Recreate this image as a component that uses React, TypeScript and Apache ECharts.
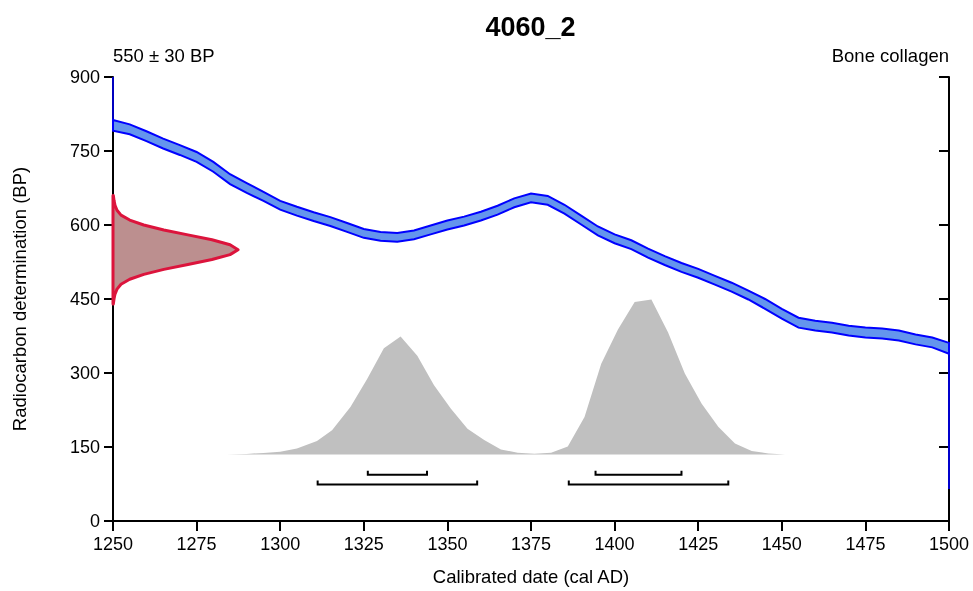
import React, { useEffect, useRef } from "react";
import * as echarts from "echarts";

const FONT = "'Liberation Sans', Arial, Helvetica, sans-serif";

const TITLE = "4060_2";
const SUB_LEFT = "550 ± 30 BP";
const SUB_RIGHT = "Bone collagen";
const X_NAME = "Calibrated date (cal AD)";
const Y_NAME = "Radiocarbon determination (BP)";

// Calibration curve (centre and 1-sigma half width, BP)
const CAL_YEARS = [1250, 1255, 1260, 1265, 1270, 1275, 1280, 1285, 1290, 1295, 1300, 1305, 1310, 1315, 1320, 1325, 1330, 1335, 1340, 1345, 1350, 1355, 1360, 1365, 1370, 1375, 1380, 1385, 1390, 1395, 1400, 1405, 1410, 1415, 1420, 1425, 1430, 1435, 1440, 1445, 1450, 1455, 1460, 1465, 1470, 1475, 1480, 1485, 1490, 1495, 1500];
const CAL_BP = [802, 794, 780, 765, 752, 738, 718, 693, 675, 658, 640, 628, 617, 607, 595, 583, 577, 575, 580, 590, 600, 608, 618, 630, 645, 655, 650, 632, 610, 588, 572, 560, 543, 528, 514, 502, 488, 474, 458, 440, 420, 402, 396, 392, 386, 382, 380, 376, 368, 362, 350];
const CAL_ERR = [11, 10, 10, 10, 10, 10, 10, 10, 10, 9, 9, 9, 9, 9, 9, 9, 9, 9, 9, 9, 9, 9, 9, 9, 9, 9, 9, 9, 9, 9, 9, 9, 9, 9, 9, 9, 9, 9, 9, 10, 10, 10, 10, 10, 10, 10, 10, 10, 10, 10, 11];

// Clipped curve edges at the plot borders
const EDGE_LEFT = [[1250, 900], [1250, 813]];
const EDGE_RIGHT = [[1500, 358], [1500, 65]];

// Measured date distribution (BP vs width in years from the axis)
const MEAS_BP = [440, 450, 460, 470, 480, 490, 500, 510, 520, 530, 540, 550, 560, 570, 580, 590, 600, 610, 620, 630, 640, 650, 660];
const MEAS_WIDTH = [0.1, 0.3, 0.6, 1.2, 2.4, 5, 9.2, 15.2, 22.4, 29.6, 35, 37.4, 35, 29.6, 22.4, 15.2, 9.2, 5, 2.4, 1.2, 0.6, 0.3, 0.1];

// Calibrated probability (top edge of the grey area, in BP units above its base)
const POST_BASE = 135;
const POST_YEARS = [1284, 1290, 1295, 1300, 1305, 1311, 1315.5, 1321, 1326, 1331, 1336, 1341, 1346, 1351, 1356, 1361, 1366, 1371, 1376, 1381, 1386, 1391, 1396, 1401, 1406, 1411, 1416, 1421, 1426, 1431, 1436, 1441, 1446, 1451];
const POST_LEVEL = [135, 136, 138, 140.5, 147, 162, 184, 231, 288, 350, 374, 335, 275, 228, 187, 164, 145, 138.5, 136.5, 138.5, 151, 211, 319, 388, 444, 449, 382, 299, 238, 191, 157, 142, 137, 135];

// Calibrated ranges: [start, end]
const RANGE_68 = [[1326.2, 1343.9], [1394.3, 1420.0]];
const RANGE_95 = [[1311.2, 1358.9], [1386.3, 1434.0]];
const LEVEL_68 = 94;
const LEVEL_95 = 74;
const BRACKET_TICK = 8;

export default function App() {
  const ref = useRef<HTMLDivElement>(null);
  useEffect(() => {
    if (!ref.current) return;
    const chart = echarts.init(ref.current, undefined, { renderer: "svg" });

    const bandRender = (params: any, api: any) => {
      if (params.dataIndex !== 0) return null;
      const pts: number[][] = [];
      for (let i = 0; i < CAL_YEARS.length; i++) pts.push(api.coord([CAL_YEARS[i], CAL_BP[i] + CAL_ERR[i]]));
      for (let i = CAL_YEARS.length - 1; i >= 0; i--) pts.push(api.coord([CAL_YEARS[i], CAL_BP[i] - CAL_ERR[i]]));
      return { type: "polygon", shape: { points: pts }, style: { fill: "#6495ED", stroke: "#0000FF", lineWidth: 2 } };
    };

    const measRender = (params: any, api: any) => {
      if (params.dataIndex !== 0) return null;
      const pts: number[][] = [];
      pts.push(api.coord([1250, MEAS_BP[0]]));
      for (let i = 0; i < MEAS_BP.length; i++) pts.push(api.coord([1250 + MEAS_WIDTH[i], MEAS_BP[i]]));
      pts.push(api.coord([1250, MEAS_BP[MEAS_BP.length - 1]]));
      return { type: "polygon", shape: { points: pts }, style: { fill: "#BC8F8F", stroke: "#DC143C", lineWidth: 3, lineJoin: "round" } };
    };

    const postRender = (params: any, api: any) => {
      if (params.dataIndex !== 0) return null;
      const pts: number[][] = [];
      pts.push(api.coord([POST_YEARS[0], POST_BASE]));
      for (let i = 0; i < POST_YEARS.length; i++) pts.push(api.coord([POST_YEARS[i], POST_LEVEL[i]]));
      pts.push(api.coord([POST_YEARS[POST_YEARS.length - 1], POST_BASE]));
      return { type: "polygon", shape: { points: pts }, style: { fill: "#C0C0C0" } };
    };

    const bracketRender = (params: any, api: any) => {
      const s = api.value(0), e = api.value(1), lv = api.value(2);
      const pts = [
        api.coord([s, lv + BRACKET_TICK]),
        api.coord([s, lv]),
        api.coord([e, lv]),
        api.coord([e, lv + BRACKET_TICK]),
      ];
      return { type: "polyline", shape: { points: pts }, style: { fill: "none", stroke: "#000", lineWidth: 2 } };
    };

    const brackets = [
      ...RANGE_68.map((r) => [r[0], r[1], LEVEL_68]),
      ...RANGE_95.map((r) => [r[0], r[1], LEVEL_95]),
    ];

    const axisLine = { show: true, lineStyle: { color: "#000", width: 2 } };
    const plain = (v: number) => String(v);

    chart.setOption({
      animation: false,
      textStyle: { fontFamily: FONT },
      grid: { left: 113, top: 77, width: 836, height: 448 },
      graphic: [
        { type: "text", x: 530.5, y: 27, style: { text: TITLE, textAlign: "center", textVerticalAlign: "middle", font: `bold 27px ${FONT}`, fill: "#000" } },
        { type: "text", x: 113, y: 55, style: { text: SUB_LEFT, textAlign: "left", textVerticalAlign: "middle", font: `18.5px ${FONT}`, fill: "#000" } },
        { type: "text", x: 949, y: 55, style: { text: SUB_RIGHT, textAlign: "right", textVerticalAlign: "middle", font: `18.5px ${FONT}`, fill: "#000" } },
      ],
      xAxis: [
        {
          type: "value", min: 1250, max: 1500, interval: 25, position: "bottom",
          name: X_NAME, nameLocation: "middle", nameGap: 46,
          nameTextStyle: { fontSize: 18.5, color: "#000", fontFamily: FONT },
          axisLine, axisTick: { show: true, inside: false, length: 9, lineStyle: { color: "#000", width: 2 } },
          axisLabel: { fontSize: 18, color: "#000", margin: 14, fontFamily: FONT, formatter: plain },
          splitLine: { show: false },
        },
        {
          type: "value", min: 1250, max: 1500, interval: 25, position: "top",
          axisLine, axisTick: { show: true, inside: true, length: 10, lineStyle: { color: "#000", width: 2 } },
          axisLabel: { show: false }, splitLine: { show: false },
        },
      ],
      yAxis: [
        {
          type: "value", min: 0, max: 900, interval: 150, position: "left",
          name: Y_NAME, nameLocation: "middle", nameGap: 84,
          nameTextStyle: { fontSize: 18.5, color: "#000", fontFamily: FONT },
          axisLine, axisTick: { show: true, inside: false, length: 9, lineStyle: { color: "#000", width: 2 } },
          axisLabel: { fontSize: 18, color: "#000", margin: 13, fontFamily: FONT, formatter: plain },
          splitLine: { show: false },
        },
        {
          type: "value", min: 0, max: 900, interval: 150, position: "right",
          axisLine, axisTick: { show: true, inside: true, length: 10, lineStyle: { color: "#000", width: 2 } },
          axisLabel: { show: false }, splitLine: { show: false },
        },
      ],
      series: [
        { type: "custom", name: "Probability", renderItem: postRender, data: [[POST_YEARS[0], POST_BASE]], z: 1, silent: true },
        { type: "custom", name: "Calibration curve", renderItem: bandRender, data: [[CAL_YEARS[0], CAL_BP[0]]], z: 2, silent: true },
        { type: "line", name: "edgeL", data: EDGE_LEFT, symbol: "none", lineStyle: { color: "#0000FF", width: 1.5 }, z: 2, silent: true },
        { type: "line", name: "edgeR", data: EDGE_RIGHT, symbol: "none", lineStyle: { color: "#0000FF", width: 2, opacity: 0.8 }, z: 2, silent: true },
        { type: "custom", name: "Measurement", renderItem: measRender, data: [[1250, MEAS_BP[0]]], z: 3, silent: true },
        { type: "custom", name: "Ranges", renderItem: bracketRender, data: brackets, z: 4, silent: true },
      ],
    });
    return () => chart.dispose();
  }, []);
  return <div ref={ref} style={{ position: "fixed", left: 0, top: 0, width: 973, height: 591 }} />;
}
